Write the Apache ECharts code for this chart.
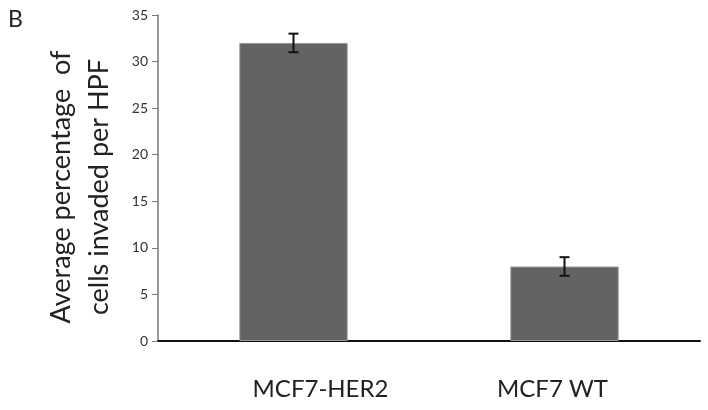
<!DOCTYPE html>
<html>
<head>
<meta charset="utf-8">
<script src="https://cdn.jsdelivr.net/npm/echarts@6/dist/echarts.min.js"></script>
<style>
  html, body { margin: 0; padding: 0; background: #fff; }
  #chart { width: 708px; height: 410px; }
</style>
</head>
<body>
<div id="chart"></div>
<script>
// data
var categories = ["MCF7-HER2", "MCF7 WT"];
var means = [32, 8];
var errLow = [31, 7];
var errHigh = [33, 9];
var yTicks = [0, 5, 10, 15, 20, 25, 30, 35];

var chart = echarts.init(document.getElementById("chart"));
var font = "Lato, 'Open Sans', sans-serif";

chart.setOption({
  animation: false,
  graphic: [
    { type: "text", left: 8, top: 8, style: { text: "B", font: "23px " + font, fill: "#222" } }
  ],
  grid: { left: 158, right: 8, top: 15, bottom: 69 },
  xAxis: {
    type: "category",
    data: categories,
    axisLine: { lineStyle: { color: "#111", width: 2 } },
    axisTick: { show: false },
    axisLabel: {
      margin: 36,
      fontSize: 24,
      color: "#222",
      fontFamily: font,
      // labels in the figure sit a little off the bar centres
      formatter: function (v, i) { return i === 0 ? "{a|" + v + "}" : "{b|" + v + "}"; },
      rich: {
        a: { fontSize: 24, color: "#222", fontFamily: font, padding: [0, 0, 0, 54] },
        b: { fontSize: 24, color: "#222", fontFamily: font, padding: [0, 24, 0, 0] }
      }
    }
  },
  yAxis: {
    type: "value",
    min: 0,
    max: yTicks[yTicks.length - 1],
    interval: 5,
    name: "Average percentage  of\ncells invaded per HPF",
    nameLocation: "middle",
    nameRotate: 90,
    nameGap: 40,
    nameTextStyle: { fontSize: 27, color: "#222", fontFamily: font, lineHeight: 38, padding: [0, 18, 0, 0] },
    axisLine: { show: true, lineStyle: { color: "#777", width: 1.5 } },
    axisTick: { show: true, length: 6, lineStyle: { color: "#777" } },
    axisLabel: { margin: 10, fontSize: 14, color: "#333", fontFamily: font },
    splitLine: { show: false }
  },
  series: [
    {
      type: "bar",
      data: means,
      barWidth: "40%",
      itemStyle: { color: "#636363", borderColor: "#9a9a9a", borderWidth: 1 }
    },
    {
      type: "custom",
      data: categories.map(function (c, i) { return [i, errLow[i], errHigh[i]]; }),
      renderItem: function (params, api) {
        var lo = api.coord([api.value(0), api.value(1)]);
        var hi = api.coord([api.value(0), api.value(2)]);
        var w = 5;
        var st = { stroke: "#111", lineWidth: 2 };
        return {
          type: "group",
          children: [
            { type: "line", shape: { x1: hi[0], y1: hi[1], x2: lo[0], y2: lo[1] }, style: st },
            { type: "line", shape: { x1: hi[0] - w, y1: hi[1], x2: hi[0] + w, y2: hi[1] }, style: st },
            { type: "line", shape: { x1: lo[0] - w, y1: lo[1], x2: lo[0] + w, y2: lo[1] }, style: st }
          ]
        };
      },
      z: 10
    }
  ]
});
</script>
</body>
</html>
